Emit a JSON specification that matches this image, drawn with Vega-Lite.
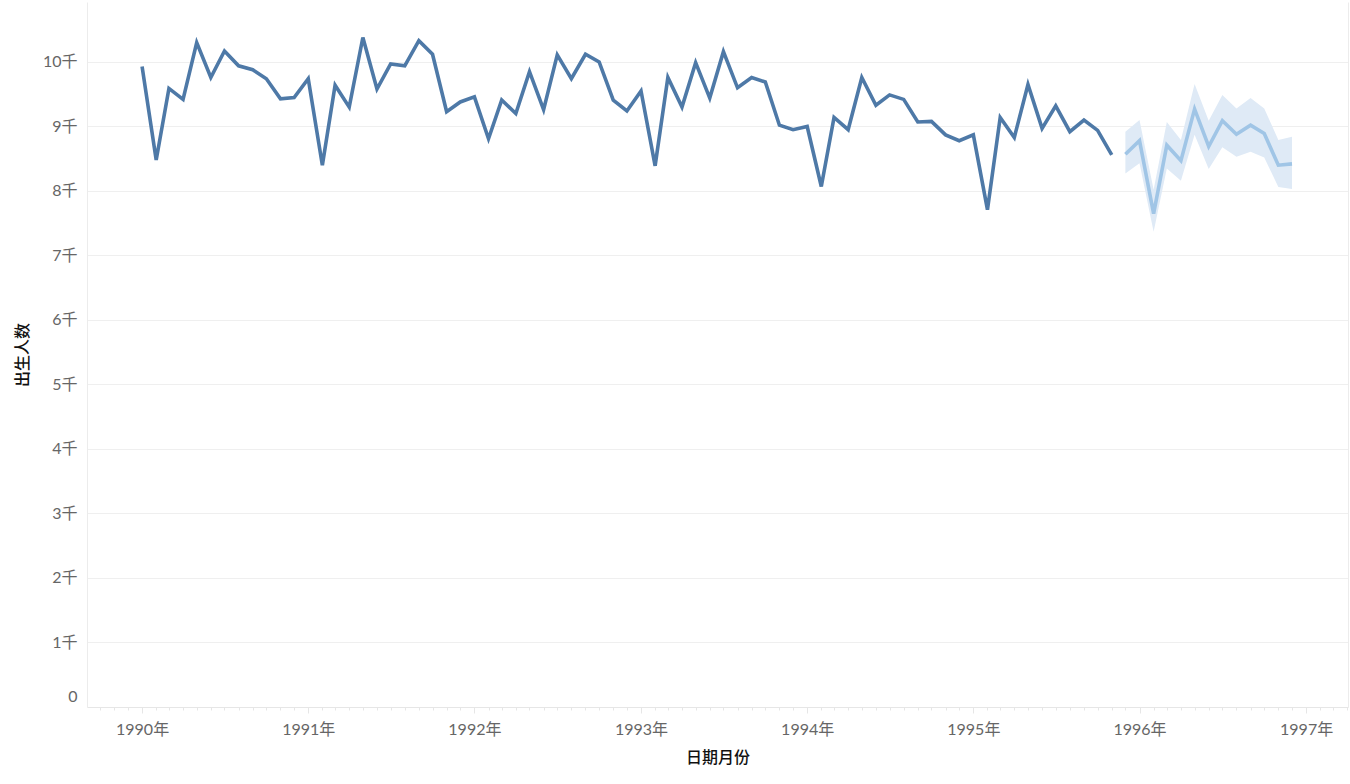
{
  "$schema": "https://vega.github.io/schema/vega-lite/v6.json",
  "width": 1261,
  "height": 705,
  "autosize": "none",
  "padding": {"left": 87, "top": 2, "right": 2, "bottom": 77},
  "background": "white",
  "config": {
    "view": {"stroke": null},
    "font": "Lato, Noto Sans CJK SC",
    "axis": {
      "labelFont": "Lato, Noto Sans CJK SC",
      "labelFontSize": 16,
      "labelColor": "#666666",
      "titleFont": "Noto Sans CJK SC",
      "titleFontSize": 16,
      "titleFontWeight": 500,
      "titleColor": "#111111"
    }
  },
  "data": {
    "values": [
      {"date": "1990-01-01", "births": 9930, "kind": "实际"},
      {"date": "1990-02-01", "births": 8480, "kind": "实际"},
      {"date": "1990-03-01", "births": 9590, "kind": "实际"},
      {"date": "1990-04-01", "births": 9420, "kind": "实际"},
      {"date": "1990-05-01", "births": 10300, "kind": "实际"},
      {"date": "1990-06-01", "births": 9760, "kind": "实际"},
      {"date": "1990-07-01", "births": 10170, "kind": "实际"},
      {"date": "1990-08-01", "births": 9940, "kind": "实际"},
      {"date": "1990-09-01", "births": 9880, "kind": "实际"},
      {"date": "1990-10-01", "births": 9740, "kind": "实际"},
      {"date": "1990-11-01", "births": 9430, "kind": "实际"},
      {"date": "1990-12-01", "births": 9450, "kind": "实际"},
      {"date": "1991-01-01", "births": 9740, "kind": "实际"},
      {"date": "1991-02-01", "births": 8400, "kind": "实际"},
      {"date": "1991-03-01", "births": 9640, "kind": "实际"},
      {"date": "1991-04-01", "births": 9300, "kind": "实际"},
      {"date": "1991-05-01", "births": 10380, "kind": "实际"},
      {"date": "1991-06-01", "births": 9580, "kind": "实际"},
      {"date": "1991-07-01", "births": 9970, "kind": "实际"},
      {"date": "1991-08-01", "births": 9940, "kind": "实际"},
      {"date": "1991-09-01", "births": 10330, "kind": "实际"},
      {"date": "1991-10-01", "births": 10120, "kind": "实际"},
      {"date": "1991-11-01", "births": 9230, "kind": "实际"},
      {"date": "1991-12-01", "births": 9380, "kind": "实际"},
      {"date": "1992-01-01", "births": 9460, "kind": "实际"},
      {"date": "1992-02-01", "births": 8810, "kind": "实际"},
      {"date": "1992-03-01", "births": 9410, "kind": "实际"},
      {"date": "1992-04-01", "births": 9200, "kind": "实际"},
      {"date": "1992-05-01", "births": 9850, "kind": "实际"},
      {"date": "1992-06-01", "births": 9260, "kind": "实际"},
      {"date": "1992-07-01", "births": 10110, "kind": "实际"},
      {"date": "1992-08-01", "births": 9740, "kind": "实际"},
      {"date": "1992-09-01", "births": 10120, "kind": "实际"},
      {"date": "1992-10-01", "births": 10000, "kind": "实际"},
      {"date": "1992-11-01", "births": 9410, "kind": "实际"},
      {"date": "1992-12-01", "births": 9240, "kind": "实际"},
      {"date": "1993-01-01", "births": 9550, "kind": "实际"},
      {"date": "1993-02-01", "births": 8390, "kind": "实际"},
      {"date": "1993-03-01", "births": 9760, "kind": "实际"},
      {"date": "1993-04-01", "births": 9300, "kind": "实际"},
      {"date": "1993-05-01", "births": 9990, "kind": "实际"},
      {"date": "1993-06-01", "births": 9440, "kind": "实际"},
      {"date": "1993-07-01", "births": 10160, "kind": "实际"},
      {"date": "1993-08-01", "births": 9600, "kind": "实际"},
      {"date": "1993-09-01", "births": 9760, "kind": "实际"},
      {"date": "1993-10-01", "births": 9690, "kind": "实际"},
      {"date": "1993-11-01", "births": 9020, "kind": "实际"},
      {"date": "1993-12-01", "births": 8950, "kind": "实际"},
      {"date": "1994-01-01", "births": 9000, "kind": "实际"},
      {"date": "1994-02-01", "births": 8070, "kind": "实际"},
      {"date": "1994-03-01", "births": 9140, "kind": "实际"},
      {"date": "1994-04-01", "births": 8950, "kind": "实际"},
      {"date": "1994-05-01", "births": 9760, "kind": "实际"},
      {"date": "1994-06-01", "births": 9330, "kind": "实际"},
      {"date": "1994-07-01", "births": 9490, "kind": "实际"},
      {"date": "1994-08-01", "births": 9420, "kind": "实际"},
      {"date": "1994-09-01", "births": 9070, "kind": "实际"},
      {"date": "1994-10-01", "births": 9080, "kind": "实际"},
      {"date": "1994-11-01", "births": 8870, "kind": "实际"},
      {"date": "1994-12-01", "births": 8780, "kind": "实际"},
      {"date": "1995-01-01", "births": 8870, "kind": "实际"},
      {"date": "1995-02-01", "births": 7710, "kind": "实际"},
      {"date": "1995-03-01", "births": 9140, "kind": "实际"},
      {"date": "1995-04-01", "births": 8830, "kind": "实际"},
      {"date": "1995-05-01", "births": 9650, "kind": "实际"},
      {"date": "1995-06-01", "births": 8970, "kind": "实际"},
      {"date": "1995-07-01", "births": 9320, "kind": "实际"},
      {"date": "1995-08-01", "births": 8920, "kind": "实际"},
      {"date": "1995-09-01", "births": 9100, "kind": "实际"},
      {"date": "1995-10-01", "births": 8940, "kind": "实际"},
      {"date": "1995-11-01", "births": 8560, "kind": "实际"},
      {"date": "1995-12-01", "births": 8570, "lo": 8270, "hi": 8920, "kind": "预测"},
      {"date": "1996-01-01", "births": 8780, "lo": 8430, "hi": 9100, "kind": "预测"},
      {"date": "1996-02-01", "births": 7650, "lo": 7370, "hi": 8020, "kind": "预测"},
      {"date": "1996-03-01", "births": 8710, "lo": 8350, "hi": 9070, "kind": "预测"},
      {"date": "1996-04-01", "births": 8470, "lo": 8160, "hi": 8790, "kind": "预测"},
      {"date": "1996-05-01", "births": 9270, "lo": 8870, "hi": 9660, "kind": "预测"},
      {"date": "1996-06-01", "births": 8690, "lo": 8340, "hi": 9090, "kind": "预测"},
      {"date": "1996-07-01", "births": 9090, "lo": 8680, "hi": 9490, "kind": "预测"},
      {"date": "1996-08-01", "births": 8880, "lo": 8530, "hi": 9280, "kind": "预测"},
      {"date": "1996-09-01", "births": 9020, "lo": 8610, "hi": 9440, "kind": "预测"},
      {"date": "1996-10-01", "births": 8890, "lo": 8520, "hi": 9280, "kind": "预测"},
      {"date": "1996-11-01", "births": 8400, "lo": 8060, "hi": 8790, "kind": "预测"},
      {"date": "1996-12-01", "births": 8420, "lo": 8030, "hi": 8840, "kind": "预测"}
    ]
  },
  "resolve": {"axis": {"y": "independent"}},
  "layer": [
    {
      "transform": [{"filter": "datum.kind == '预测'"}],
      "mark": {"type": "area", "color": "#dfeaf6", "opacity": 1},
      "encoding": {
        "x": {
          "field": "date",
          "type": "temporal",
          "title": "日期月份",
          "scale": {
            "type": "utc",
            "domain": [
              {"year": 1989, "month": 9, "date": 2, "utc": true},
              {"year": 1997, "month": 4, "date": 3, "utc": true}
            ]
          },
          "axis": {
            "tickCount": {"interval": "month", "step": 1},
            "labelExpr": "utcmonth(datum.value) == 0 ? utcyear(datum.value) + '年' : ''",
            "labelOverlap": false,
            "labelBound": false,
            "labelFlush": false,
            "labelPadding": 8,
            "grid": false,
            "domainColor": "#e6e6e6",
            "tickColor": "#e6e6e6",
            "tickSize": {"condition": {"test": "utcmonth(datum.value) == 0", "value": 6}, "value": 3},
            "titlePadding": 12
          }
        },
        "y": {
          "field": "lo",
          "type": "quantitative",
          "title": "出生人数",
          "scale": {"domain": [0, 10930], "nice": false, "zero": true},
          "axis": {
            "values": [0, 1000, 2000, 3000, 4000, 5000, 6000, 7000, 8000, 9000, 10000],
            "labelExpr": "datum.value == 0 ? '0' : (datum.value / 1000) + '千'",
            "labelOffset": {"condition": {"test": "datum.value == 0", "value": -11}, "value": 0},
            "labelPadding": 10,
            "ticks": false,
            "gridColor": "#efefef",
            "domainColor": "#ececec",
            "titlePadding": 12
          }
        },
        "y2": {"field": "hi"}
      }
    },
    {
      "mark": {"type": "line", "strokeWidth": 3.6},
      "encoding": {
        "x": {"field": "date", "type": "temporal"},
        "y": {
          "field": "births",
          "type": "quantitative",
          "axis": {
            "orient": "right",
            "labels": false,
            "ticks": false,
            "grid": false,
            "title": null,
            "domainColor": "#ececec"
          }
        },
        "color": {
          "field": "kind",
          "type": "nominal",
          "scale": {"domain": ["实际", "预测"], "range": ["#4e79a7", "#a0c5e6"]},
          "legend": null
        }
      }
    }
  ]
}
